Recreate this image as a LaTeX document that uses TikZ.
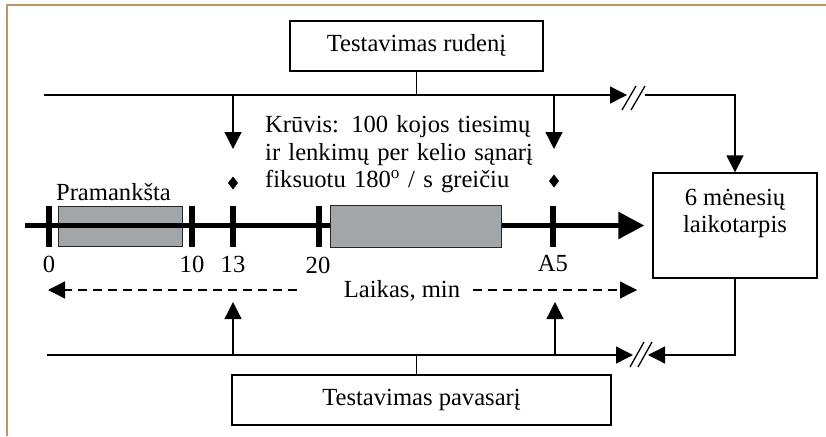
\documentclass[tikz,border=0pt]{standalone}
\usepackage{fontspec}
\setmainfont{Liberation Serif}
\usetikzlibrary{arrows.meta}
\definecolor{frametan}{RGB}{186,150,106}
\definecolor{boxgray}{RGB}{163,166,168}
\tikzset{
  framestyle/.style={draw=frametan, line width=2.5pt},
  tbox/.style={draw, line width=1.3pt, inner sep=0pt, text height=16pt, text depth=5pt},
  conn/.style={line width=1.3pt},
  arr/.style={conn, -{Triangle[length=17pt,width=17pt]}},
  dasharr/.style={arr, dash pattern=on 9pt off 6pt},
  timeline/.style={line width=5.5pt, -{Triangle[length=26pt,width=26pt]}},
  tickmark/.style={fill=black},
  phase/.style={fill=boxgray, draw=black!85, line width=1pt},
  slash/.style={line width=1.3pt},
  lbl/.style={inner sep=0pt, anchor=base},
}
\begin{document}
\begin{tikzpicture}[x=1pt, y=-1pt, font=\fontsize{24.6}{27.5}\selectfont]
\useasboundingbox (0,0) rectangle (826,436);
% frame
\draw[framestyle] (7,436) -- (7,5) -- (826,5);

% boxes
\node[tbox, minimum width=253pt, minimum height=50pt] (top) at (416.5,46) {Testavimas rudenį};
\node[tbox, minimum width=379pt, minimum height=50pt] (bot) at (421.5,400) {Testavimas pavasarį};
\node[draw, line width=1.3pt, minimum width=164pt, minimum height=105pt, inner sep=0pt] (per) at (735,225.5) {};
\node[inner sep=0pt, align=center, anchor=north] (pertext) at (735,189) {6 mėnesių\\laikotarpis};

% top line
\coordinate (tl) at (44,95);
\coordinate (tr) at (627,95);
\coordinate (tr2) at (645,95);
\draw[conn] (top.south) -- (top.south |- tl);
\draw[arr] (tl) -- (tr);
\draw[slash] (622,110) -- (636,86);
\draw[slash] (631,110) -- (645,86);
\draw[arr] (tr2) -- (tr2 -| per.north) -- (per.north);

% down arrows
\coordinate (d1) at (233,95);
\coordinate (d2) at (554,95);
\draw[arr] (d1) -- ++(0,54) coordinate (d1e);
\draw[arr] (d2) -- ++(0,54) coordinate (d2e);
\fill (233,176.5) -- (238,183) -- (233,189.5) -- (228,183) -- cycle;
\fill (554,174.5) -- (559,181) -- (554,187.5) -- (549,181) -- cycle;

% timeline
\coordinate (t0) at (25,225.5);
\draw[phase] (58,206) rectangle (182,246);
\draw[timeline] (t0) -- ([xshift=-8pt]per.west);
\draw[phase] (330,205) rectangle (501,247);
\foreach \x in {49,192,233,319,553} {
  \fill[tickmark] (\x-3,206) rectangle (\x+3,247);
}
\node[lbl] (l0) at (49,272) {0};
\node[lbl] (l10) at (192,272) {10};
\node[lbl] (l13) at (233,272) {13};
\node[lbl] (l20) at (318,273) {20};
\node[lbl] (lA5) at (553,271) {A5};
\node[lbl] (pram) at (113.5,200) {Pramankšta};

% load text
\node[inner sep=0pt, anchor=north west, text width=268pt, align=left] (kruvis) at (265,115.5)
{\makebox[268pt][s]{Krūvis: 100 kojos tiesimų}\\
 \makebox[268pt][s]{ir lenkimų per kelio sąnarį}\\
 fiksuotu 180\textsuperscript{o} / s greičiu};

% time axis label
\node[lbl] (laikas) at (402,297) {Laikas, min};
\coordinate (dl) at (297,290);
\coordinate (dr) at (473,290);
\draw[dasharr] (dl) -- (48,290);
\draw[dasharr] (dr) -- (637,290);

% bottom line
\coordinate (bl) at (47,355);
\coordinate (br) at (633,355);
\draw[conn] (top.south |- bot.north) -- (top.south |- bl);
\draw[arr] (bl) -- (br);
\draw[slash] (630,367) -- (644,342);
\draw[slash] (638,367) -- (652,342);
\draw[arr] (per.south) -- (per.south |- bl) -- (648,355);

% up arrows
\draw[arr] (233,355) -- (233,302);
\draw[arr] (555,355) -- (555,302);
\end{tikzpicture}
\end{document}
